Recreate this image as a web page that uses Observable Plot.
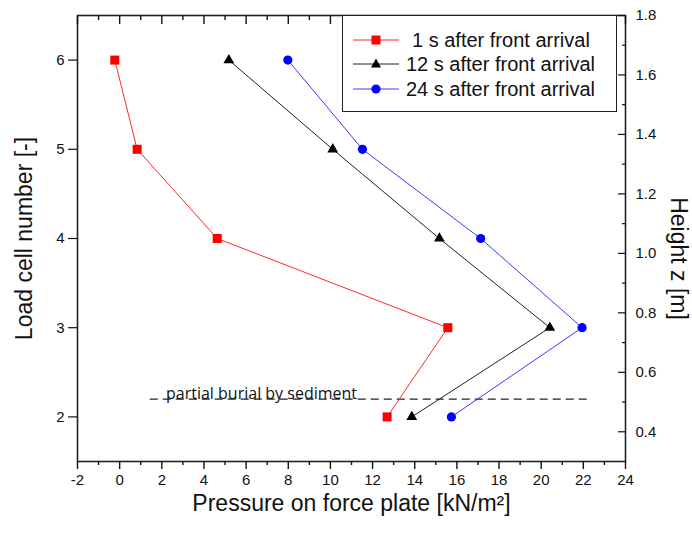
<!DOCTYPE html>
<html>
<head>
<meta charset="utf-8">
<script src="https://cdn.jsdelivr.net/npm/d3@7"></script>
<script src="https://cdn.jsdelivr.net/npm/@observablehq/plot@0.6"></script>
<style>
  html, body { margin: 0; padding: 0; background: white; }
  #wrap { position: relative; width: 692px; height: 534px; }
  #legend {
    position: absolute; left: 342px; top: 15px; width: 273px; height: 95px;
    border: 1.5px solid #222; background: white; box-sizing: content-box;
    font-family: "Liberation Sans", Arial, sans-serif; font-size: 20px; color: #111;
  }
  .row { position: absolute; left: 0; height: 24px; display: flex; align-items: center; white-space: nowrap; }
  .row svg { margin-left: 10px; margin-right: 7px; }
</style>
</head>
<body>
<div id="wrap"></div>
<script>
// ---- data ----
const loadCells = [6, 5, 4, 3, 2];
const pressure1s = [-0.23, 0.83, 4.63, 15.57, 12.69];
const pressure12s = [5.18, 10.11, 15.17, 20.41, 13.86];
const pressure24s = [7.98, 11.52, 17.13, 21.94, 15.74];
const seriesLabels = ["1 s after front arrival", "12 s after front arrival", "24 s after front arrival"];
const seriesColors = ["#ff0000", "#000000", "#0000ff"];
const lineColors = ["#ff2a2a", "#222222", "#3a3aff"];
const seriesSymbols = ["square", "triangle", "circle"];

const xTicks = [-2, 0, 2, 4, 6, 8, 10, 12, 14, 16, 18, 20, 22, 24];
const xMinorTicks = [-1, 1, 3, 5, 7, 9, 11, 13, 15, 17, 19, 21, 23];
const cellTicks = [2, 3, 4, 5, 6];
const heightTicks = [0.4, 0.6, 0.8, 1.0, 1.2, 1.4, 1.6, 1.8];
const heightMinorTicks = [0.5, 0.7, 0.9, 1.1, 1.3, 1.5, 1.7];

// relation between load cell number and height z [m]
const heightPerCell = 0.3;
const heightOffset = -0.15;
const toCell = h => (h - heightOffset) / heightPerCell;
const toHeight = c => c * heightPerCell + heightOffset;

const burialHeight = 0.51;
const burialFrom = 1.45;
const burialTo = 22.25;
const burialLabel = "partial burial by sediment";
const burialLabelX = 2.2;

const xTitle = "Pressure on force plate [kN/m²]";
const yTitle = "Load cell number [-]";
const y2Title = "Height z [m]";

// ---- table ----
const allSeries = [pressure1s, pressure12s, pressure24s];
const rows = [];
allSeries.forEach((vals, s) => vals.forEach((v, i) => rows.push({series: s, cell: loadCells[i], p: v})));

const tickFont = 15;
const blank = () => "";
const plain = d => String(d);
const marks = [];
marks.push(Plot.frame({stroke: "#222", strokeWidth: 1.6}));
// bottom axis
marks.push(Plot.axisX({anchor: "bottom", ticks: xTicks, tickSize: 8, tickPadding: 5, fontSize: tickFont, label: null, strokeWidth: 1.4, tickFormat: plain}));
marks.push(Plot.axisX({anchor: "bottom", ticks: xMinorTicks, tickSize: 4, tickFormat: blank, label: null, strokeWidth: 1.4}));
// top axis (inward ticks)
marks.push(Plot.axisX({anchor: "top", ticks: xTicks, tickSize: -8, tickFormat: blank, label: null, strokeWidth: 1.4}));
marks.push(Plot.axisX({anchor: "top", ticks: xMinorTicks, tickSize: -4, tickFormat: blank, label: null, strokeWidth: 1.4}));
// left axis
marks.push(Plot.axisY({anchor: "left", ticks: cellTicks, tickSize: 9, tickPadding: 4, fontSize: tickFont, label: null, strokeWidth: 1.2, tickFormat: plain}));
// right axis (height)
marks.push(Plot.axisY({anchor: "right", ticks: heightTicks.map(toCell), tickSize: -8, tickFormat: blank, label: null, strokeWidth: 1.2}));
marks.push(Plot.axisY({anchor: "right", ticks: heightMinorTicks.map(toCell), tickSize: -4, tickFormat: blank, label: null, strokeWidth: 1.2}));
marks.push(Plot.axisY({anchor: "right", ticks: heightTicks.map(toCell), tickSize: 0, tickPadding: 10, fontSize: tickFont, label: null,
  tickFormat: d => toHeight(d).toFixed(1)}));

// burial line + label
marks.push(Plot.ruleY([toCell(burialHeight)], {y: d => d, x1: burialFrom, x2: burialTo, stroke: "#222", strokeWidth: 1.3, strokeDasharray: "8,5"}));
marks.push(Plot.text([burialLabel], {x: burialLabelX, y: toCell(burialHeight), text: d => d, textAnchor: "start", lineAnchor: "bottom", dy: 0,
  fontFamily: "Open Sans", fontSize: 16, fill: "#111"}));

// series lines and markers
allSeries.forEach((vals, s) => {
  const data = rows.filter(r => r.series === s);
  marks.push(Plot.line(data, {x: "p", y: "cell", stroke: lineColors[s], strokeWidth: 1}));
});
const markerR = [5.1, 4.0, 4.6];
allSeries.forEach((vals, s) => {
  const data = rows.filter(r => r.series === s);
  marks.push(Plot.dot(data, {x: "p", y: "cell", symbol: () => seriesSymbols[s], fill: seriesColors[s], stroke: "none", r: markerR[s]}));
});

// axis titles
marks.push(Plot.text([xTitle], {frameAnchor: "bottom", dy: 49, text: d => d, fontSize: 23, textAnchor: "middle", lineAnchor: "bottom", fill: "#111"}));
marks.push(Plot.text([yTitle], {frameAnchor: "left", dx: -53, text: d => d, fontSize: 23, textAnchor: "middle", lineAnchor: "middle", rotate: -90, fill: "#111"}));
marks.push(Plot.text([y2Title], {frameAnchor: "right", dx: 53, dy: 20, text: d => d, fontSize: 23, textAnchor: "middle", lineAnchor: "middle", rotate: 90, fill: "#111"}));

const chart = Plot.plot({
  width: 692,
  height: 534,
  marginLeft: 77,
  marginRight: 67,
  marginTop: 15,
  marginBottom: 73,
  style: {fontFamily: "'Liberation Sans', Arial, sans-serif", color: "#111", background: "white", overflow: "visible"},
  x: {domain: [-2, 24], axis: null},
  y: {domain: [1.5, 6.5], axis: null},
  marks
});
const wrap = document.getElementById("wrap");
wrap.appendChild(chart);

// legend
const legend = document.createElement("div");
legend.id = "legend";
const rowTops = [12, 36, 61];
const symbolPaths = {
  square: '<rect x="18.5" y="7.5" width="9" height="9" fill="COL"/>',
  triangle: '<path d="M23,6.5 L28,15.5 L18,15.5 Z" fill="COL"/>',
  circle: '<circle cx="23" cy="12" r="4.6" fill="COL"/>'
};
seriesLabels.forEach((lab, s) => {
  const row = document.createElement("div");
  row.className = "row";
  row.style.top = rowTops[s] + "px";
  row.innerHTML = '<svg width="46" height="24"><line x1="0" x2="46" y1="12" y2="12" stroke="' + lineColors[s] + '" stroke-width="1"/>' +
    symbolPaths[seriesSymbols[s]].replace("COL", seriesColors[s]) + '</svg><span style="margin-left:' + (s === 0 ? 6 : 0) + 'px">' + lab + '</span>';
  legend.appendChild(row);
});
wrap.appendChild(legend);
</script>
</body>
</html>
